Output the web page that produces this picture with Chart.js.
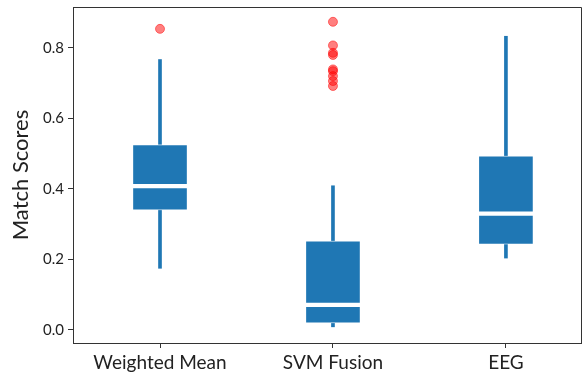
<!DOCTYPE html>
<html>
<head>
<meta charset="utf-8">
<script src="https://cdn.jsdelivr.net/npm/chart.js@4"></script>
<style>
  html, body { margin: 0; padding: 0; background: #fff; }
  #wrap { width: 582px; height: 373px; }
</style>
</head>
<body>
<div id="wrap"><canvas id="boxChart"></canvas></div>
<script>
const categories = ['Weighted Mean', 'SVM Fusion', 'EEG'];
const positions = [1, 2, 3];
const whiskerLow = [0.175, 0.009, 0.204];
const q1 = [0.340, 0.019, 0.243];
const medians = [0.408, 0.071, 0.330];
const q3 = [0.526, 0.253, 0.494];
const whiskerHigh = [0.767, 0.409, 0.833];
const outliersWeighted = [0.854];
const outliersSvm = [0.874, 0.807, 0.786, 0.780, 0.739, 0.734, 0.720, 0.706, 0.692];
const outliersEeg = [];
const yTicks = [0.0, 0.2, 0.4, 0.6, 0.8];

const blue = '#1f77b4';
const axisColor = '#333333';
const fontFamily = 'Lato, "Open Sans", sans-serif';

const lowerWhiskers = positions.map((x, i) => ({ x: x, y: [whiskerLow[i], q1[i]] }));
const upperWhiskers = positions.map((x, i) => ({ x: x, y: [q3[i], whiskerHigh[i]] }));
const boxes = positions.map((x, i) => ({ x: x, y: [q1[i], q3[i]] }));
const medianLines = positions.map((x, i) => ({ x: x, y: [medians[i] - 0.005, medians[i] + 0.005] }));

const outlierPoints = [];
[outliersWeighted, outliersSvm, outliersEeg].forEach((list, i) => {
    list.forEach(v => outlierPoints.push({ x: positions[i], y: v }));
});

// matplotlib style frame: top and right spines
const framePlugin = {
    id: 'frame',
    afterDraw(chart) {
        const a = chart.chartArea;
        const ctx = chart.ctx;
        ctx.save();
        ctx.strokeStyle = axisColor;
        ctx.lineWidth = 1;
        ctx.beginPath();
        ctx.moveTo(a.left, a.top + 0.5);
        ctx.lineTo(a.right + 0.5, a.top + 0.5);
        ctx.lineTo(a.right + 0.5, a.bottom);
        ctx.stroke();
        ctx.restore();
    }
};

new Chart(document.getElementById('boxChart'), {
    type: 'bar',
    data: {
        datasets: [
            {
                data: lowerWhiskers, backgroundColor: blue, barThickness: 3,
                grouped: false, order: 4
            },
            {
                data: upperWhiskers, backgroundColor: blue, barThickness: 3,
                grouped: false, order: 4
            },
            {
                data: boxes, backgroundColor: blue, borderColor: 'rgba(255,255,255,0.45)',
                borderWidth: 1, borderSkipped: false, barThickness: 55,
                grouped: false, order: 3
            },
            {
                data: medianLines, backgroundColor: '#ffffff', barThickness: 55,
                grouped: false, order: 2
            },
            {
                type: 'scatter', data: outlierPoints,
                backgroundColor: 'rgba(255,0,0,0.5)', borderColor: 'rgba(255,0,0,0.5)',
                borderWidth: 1, pointRadius: 4.5, order: 1
            }
        ]
    },
    plugins: [framePlugin],
    options: {
        responsive: true,
        maintainAspectRatio: false,
        animation: false,
        layout: { autoPadding: false, padding: { top: 7, right: 1, left: 0, bottom: 0 } },
        plugins: {
            legend: { display: false },
            tooltip: { enabled: false }
        },
        scales: {
            x: {
                type: 'linear',
                offset: false,
                min: 0.497,
                max: 3.434,
                afterBuildTicks: scale => {
                    scale.ticks = positions.map(v => ({ value: v }));
                },
                afterFit: scale => {
                    scale.height = 30;
                    scale.paddingLeft = 0;
                    scale.paddingRight = 0;
                },
                ticks: {
                    callback: (value) => categories[positions.indexOf(value)] || '',
                    color: '#222',
                    font: { family: fontFamily, size: 19 },
                    padding: 3,
                    maxRotation: 0,
                    autoSkip: false
                },
                grid: {
                    offset: false,
                    drawOnChartArea: false, drawTicks: true,
                    tickLength: 5, color: axisColor
                },
                border: { display: true, color: axisColor, width: 1 }
            },
            y: {
                min: -0.0369,
                max: 0.916,
                afterBuildTicks: scale => {
                    scale.ticks = yTicks.map(v => ({ value: v }));
                },
                afterFit: scale => {
                    scale.width = 73;
                    scale.paddingTop = 0;
                    scale.paddingBottom = 0;
                },
                ticks: {
                    callback: value => value.toFixed(1),
                    color: '#222',
                    font: { family: fontFamily, size: 15 },
                    padding: 4
                },
                grid: {
                    drawOnChartArea: false, drawTicks: true,
                    tickLength: 5, color: axisColor
                },
                border: { display: true, color: axisColor, width: 1 },
                title: {
                    display: true,
                    text: 'Match Scores',
                    color: '#222',
                    font: { family: fontFamily, size: 22 },
                    padding: { top: 8, bottom: 0 }
                }
            }
        }
    }
});
</script>
</body>
</html>
